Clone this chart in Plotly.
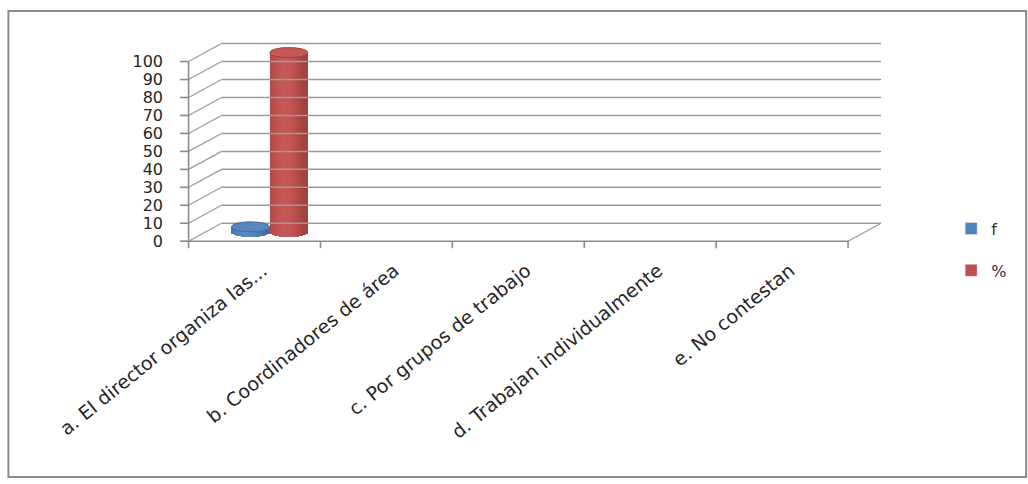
import numpy as np
import plotly.graph_objects as go

# ---- data -------------------------------------------------------------
categorias = [
    "a. El director organiza las...",
    "b. Coordinadores de área",
    "c. Por grupos de trabajo",
    "d. Trabajan individualmente",
    "e. No contestan",
]
serie_f = [3, 0, 0, 0, 0]
serie_pct = [100, 0, 0, 0, 0]
valores_eje_y = list(range(0, 101, 10))
nombres_series = ["f", "%"]
colores_series = ["#4F81BD", "#C0504D"]

# ---- pseudo-3D geometry (data units) ---------------------------------
W, H = 1028, 484
PX_X, PX_Y = 131.8, 1.8          # pixels per category / per value unit
FRONT_X_PX, FRONT_Y_PX = 189, 241.7
DEPTH_X, DEPTH_Y = 0.25, 10.0    # back-wall offset
X_LO, X_HI = -0.58, 4.78
Y_LO, Y_HI = -6.0, 112.0
BAR_W = 0.29
CAP_H = 2.8                       # half height of the cylinder ellipses

left = FRONT_X_PX + (X_LO + 0.5) * PX_X
plot_w = (X_HI - X_LO) * PX_X
right = W - left - plot_w
bottom_px = FRONT_Y_PX - Y_LO * PX_Y
plot_h = (Y_HI - Y_LO) * PX_Y
bottom = H - bottom_px
top = bottom_px - plot_h


def paper_x(px):
    return (px - left) / plot_w


def paper_y(py):
    return (bottom_px - py) / plot_h


GRID = "#9A9A9A"
fig = go.Figure()

# back wall gridlines
gx, gy = [], []
for v in valores_eje_y:
    gx += [-0.5 + DEPTH_X, 4.5 + DEPTH_X, None]
    gy += [v + DEPTH_Y, v + DEPTH_Y, None]
fig.add_trace(go.Scatter(x=gx, y=gy, mode="lines", line=dict(color=GRID, width=1.5),
                         hoverinfo="skip", showlegend=False))

# side wall diagonals and floor edges
dx, dy = [], []
for v in valores_eje_y:
    dx += [-0.5, -0.5 + DEPTH_X, None]
    dy += [v, v + DEPTH_Y, None]
dx += [4.5, 4.5 + DEPTH_X, None]
dy += [0, DEPTH_Y, None]
fig.add_trace(go.Scatter(x=dx, y=dy, mode="lines", line=dict(color=GRID, width=1.2),
                         hoverinfo="skip", showlegend=False))

# front axes with their tick marks
ax, ay = [-0.5, 4.5, None, -0.5, -0.5, None], [0, 0, None, 0, 100, None]
for v in valores_eje_y:
    ax += [-0.5 - 8.5 / PX_X, -0.5, None]
    ay += [v, v, None]
for b in range(6):
    ax += [b - 0.5, b - 0.5, None]
    ay += [0, -7 / PX_Y, None]
fig.add_trace(go.Scatter(x=ax, y=ay, mode="lines", line=dict(color="#8C8C8C", width=1.6),
                         hoverinfo="skip", showlegend=False))


def shade(hex_color, f):
    c = np.array([int(hex_color[i:i + 2], 16) for i in (1, 3, 5)], dtype=float)
    if f >= 1:
        c = c + (255 - c) * (f - 1)
    else:
        c = c * f
    c = np.clip(c, 0, 255).astype(int)
    return "rgb({},{},{})".format(*c)


# cylinders: vertical strips shaded like a lit cylinder
N_STRIPS = 16
idx = np.arange(len(categorias))
for s, (nombre, valores, color) in enumerate(zip(nombres_series, [serie_f, serie_pct], colores_series)):
    vals = np.array(valores, dtype=float)
    off0 = DEPTH_X / 2 - BAR_W + s * BAR_W - 0.01
    for k in range(N_STRIPS):
        u = (k + 0.5) / N_STRIPS * 2 - 1          # -1 .. 1 across the cylinder
        theta = u * np.pi / 2
        light = 0.84 + 0.22 * max(0.0, np.cos(theta + 0.35))
        drop = CAP_H * np.sqrt(max(0.0, 1 - u * u))
        strip_w = BAR_W / N_STRIPS
        fig.add_trace(go.Bar(
            x=idx, y=np.where(vals > 0, vals + drop, 0), base=DEPTH_Y / 2 - drop,
            offset=off0 + k * strip_w, width=strip_w * 1.08,
            marker=dict(color=shade(color, light), line=dict(width=0)),
            name=nombre, legendgroup=nombre, showlegend=False, hoverinfo="skip",
        ))
    # legend entry
    fig.add_trace(go.Bar(x=[None], y=[None], name=nombre, legendgroup=nombre,
                         marker=dict(color=color), showlegend=True))
    # top caps
    for i, v in enumerate(vals):
        if v > 0:
            fig.add_shape(type="circle", xref="x", yref="y", layer="above",
                          x0=i + off0, x1=i + off0 + BAR_W,
                          y0=DEPTH_Y / 2 + v - CAP_H, y1=DEPTH_Y / 2 + v + CAP_H,
                          fillcolor=shade(color, 1.05),
                          line=dict(color=shade(color, 0.85), width=1))

# outer chart border
fig.add_shape(type="rect", xref="paper", yref="paper", layer="below",
              x0=paper_x(9), x1=paper_x(1026), y0=paper_y(478), y1=paper_y(11),
              line=dict(color="#8A8A8A", width=2), fillcolor="rgba(0,0,0,0)")

fig.update_layout(
    width=W, height=H,
    margin=dict(l=left, r=right, t=top, b=bottom, autoexpand=False),
    paper_bgcolor="white", plot_bgcolor="white",
    barmode="overlay", bargap=0,
    showlegend=True,
    legend=dict(x=paper_x(951), y=paper_y(212), xanchor="left", yanchor="top",
                font=dict(family="DejaVu Sans", size=16, color="#333333"),
                tracegroupgap=18, traceorder="grouped", bgcolor="rgba(0,0,0,0)"),
    xaxis=dict(range=[X_LO, X_HI], showgrid=False, zeroline=False, showline=False,
               tickmode="array", tickvals=list(idx), ticktext=categorias,
               tickangle=-39, ticks="", ticklabelstandoff=3, ticklabelshift=8,
               tickfont=dict(family="DejaVu Sans", size=19, color="#262626")),
    yaxis=dict(range=[Y_LO, Y_HI], showgrid=False, zeroline=False, showline=False,
               tickmode="array", tickvals=valores_eje_y,
               ticktext=[str(v) for v in valores_eje_y], ticks="",
               ticklabelstandoff=14,
               tickfont=dict(family="DejaVu Sans", size=16, color="#262626")),
)

fig.write_html("out.html")
